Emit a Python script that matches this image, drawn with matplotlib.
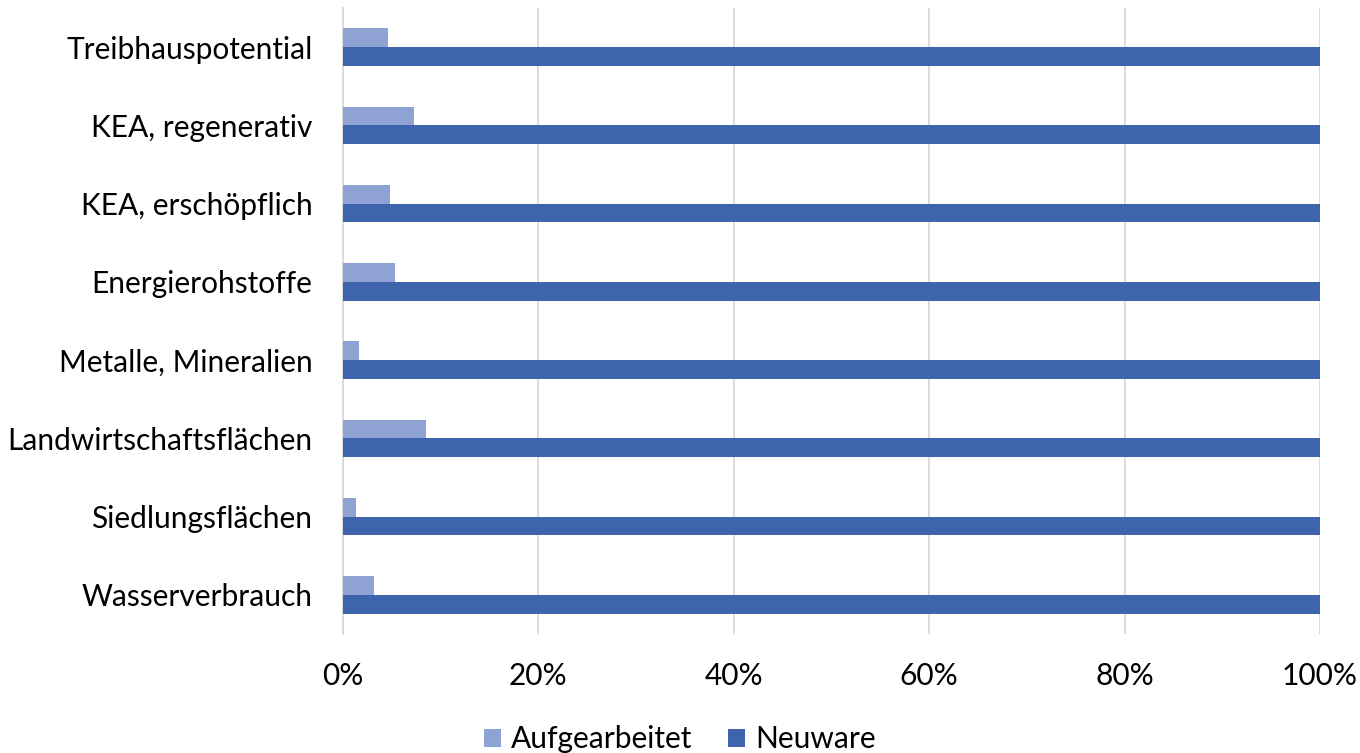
import numpy as np
import matplotlib.pyplot as plt
from matplotlib.ticker import PercentFormatter

# Daten
kategorien = ['Treibhauspotential', 'KEA, regenerativ', 'KEA, erschöpflich',
              'Energierohstoffe', 'Metalle, Mineralien', 'Landwirtschaftsflächen',
              'Siedlungsflächen', 'Wasserverbrauch']
aufgearbeitet = [4.6, 7.3, 4.8, 5.3, 1.6, 8.5, 1.35, 3.2]
neuware = [100, 100, 100, 100, 100, 100, 100, 100]

plt.rcParams['font.family'] = ['Lato', 'DejaVu Sans']

fig = plt.figure(figsize=(13.6, 7.53), dpi=100)
ax = fig.add_axes([0.2522, 0.158, 0.7184, 0.8315])

y = np.arange(len(kategorien))
h = 0.24
ax.barh(y - h / 2, aufgearbeitet, height=h, color='#8FA2D4', label='Aufgearbeitet', zorder=3)
ax.barh(y + h / 2, neuware, height=h, color='#3D64AD', label='Neuware', zorder=3)

ax.set_ylim(len(kategorien) - 0.5, -0.5)
ax.set_xlim(0, 100)
ax.set_yticks(y)
ax.set_yticklabels(kategorien, fontsize=21.5)
ax.set_xticks(np.arange(0, 101, 20))
ax.xaxis.set_major_formatter(PercentFormatter(decimals=0))
ax.tick_params(axis='x', labelsize=21.5, length=0, pad=20)
ax.tick_params(axis='y', length=0, pad=22)
ax.grid(axis='x', color='#D9D9D9', linewidth=1.3, zorder=0)
for s in ['top', 'right', 'bottom']:
    ax.spines[s].set_visible(False)
ax.spines['left'].set_color('#D9D9D9')
ax.spines['left'].set_linewidth(1.3)

fig.legend(loc='lower center', bbox_to_anchor=(0.5, -0.036), ncol=2, frameon=False,
           fontsize=21.5, handlelength=0.55, handleheight=0.55, handletextpad=0.35,
           columnspacing=1.2)

fig.savefig('out.png', dpi=100)
